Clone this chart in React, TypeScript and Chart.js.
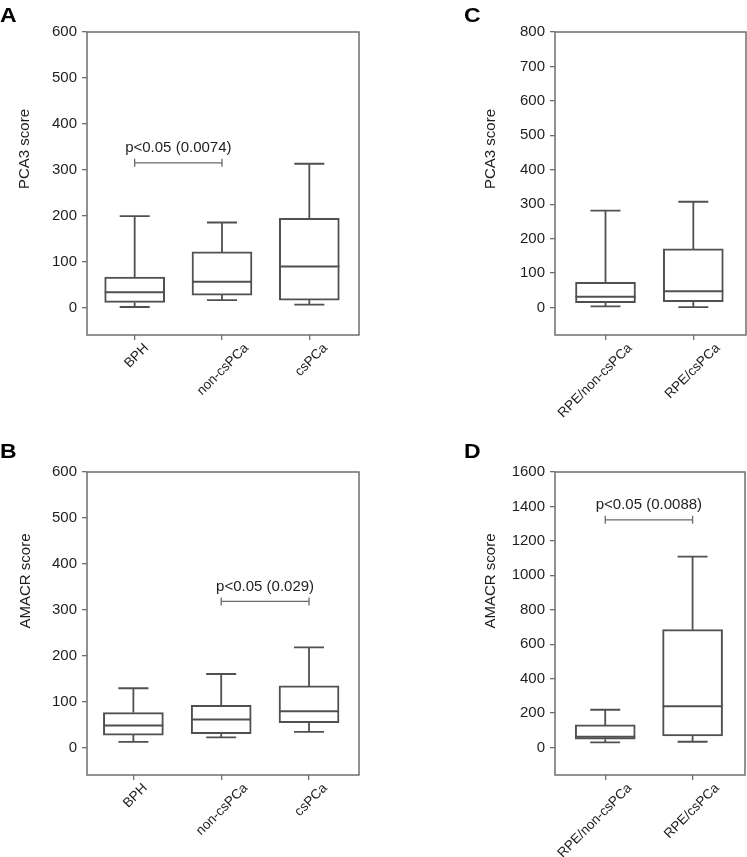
import React, { useEffect, useRef } from "react";
import { Chart, registerables } from "chart.js";

Chart.register(...registerables);

const FONT = "'Liberation Sans', Arial, Helvetica, sans-serif";
const TEXT = "#1e1e1e";
const BOX = "#505050";
const FRAME = "#6e6e6e";

// ---- Panel A: PCA3 score by diagnosis ----
const groupsA = ["BPH", "non-csPCa", "csPCa"];
const lowA = [1, 16, 6];
const q1A = [11, 27, 16];
const medianA = [33, 56, 89];
const q3A = [66, 121, 194];
const highA = [199, 185, 313];
const yTicksA = [0, 100, 200, 300, 400, 500, 600];
const sigA = { from: 1, to: 2, y: 315, label: "p<0.05 (0.0074)" };

// ---- Panel B: AMACR score by diagnosis ----
const groupsB = ["BPH", "non-csPCa", "csPCa"];
const lowB = [12, 22, 34];
const q1B = [27, 30, 54];
const medianB = [48, 61, 79];
const q3B = [76, 92, 134];
const highB = [129, 160, 218];
const yTicksB = [0, 100, 200, 300, 400, 500, 600];
const sigB = { from: 2, to: 3, y: 318, label: "p<0.05 (0.029)" };

// ---- Panel C: PCA3 score in RPE ----
const groupsC = ["RPE/non-csPCa", "RPE/csPCa"];
const lowC = [3, 1];
const q1C = [14, 17];
const medianC = [31, 47];
const q3C = [73, 170];
const highC = [281, 307];
const yTicksC = [0, 100, 200, 300, 400, 500, 600, 700, 800];

// ---- Panel D: AMACR score in RPE ----
const groupsD = ["RPE/non-csPCa", "RPE/csPCa"];
const lowD = [29, 33];
const q1D = [48, 67];
const medianD = [62, 240];
const q3D = [131, 684];
const highD = [219, 1109];
const yTicksD = [0, 200, 400, 600, 800, 1000, 1200, 1400, 1600];
const sigD = { from: 1, to: 2, y: 1322, label: "p<0.05 (0.0088)" };

type Sig = { from: number; to: number; y: number; label: string } | null;

type PanelProps = {
  letter: string;
  title: string;
  groups: string[];
  low: number[];
  q1: number[];
  median: number[];
  q3: number[];
  high: number[];
  yTicks: number[];
  yMin: number;
  yMax: number;
  xMin: number;
  xMax: number;
  sig: Sig;
  left: number;
  top: number;
  width: number;
  height: number;
  area: { l: number; t: number; r: number; b: number };
  titleX: number;
  titleY: number;
  letterX: number;
  letterY: number;
};

function BoxPanel(p: PanelProps) {
  const ref = useRef<HTMLCanvasElement | null>(null);

  useEffect(() => {
    if (!ref.current) return;
    const boxPlugin = {
      id: "boxExtras",
      afterDatasetsDraw(chart: any) {
        const { ctx } = chart;
        const xs = chart.scales.x;
        const ys = chart.scales.y;
        const meta = chart.getDatasetMeta(0);
        ctx.save();
        ctx.strokeStyle = BOX;
        ctx.lineCap = "butt";
        p.groups.forEach((_, i) => {
          const bar = meta.data[i];
          const cx = xs.getPixelForValue(i + 1);
          const half = bar.width / 2;
          const capHalf = half / 2;
          const yHigh = ys.getPixelForValue(p.high[i]);
          const yQ3 = ys.getPixelForValue(p.q3[i]);
          const yQ1 = ys.getPixelForValue(p.q1[i]);
          const yLow = ys.getPixelForValue(p.low[i]);
          const yMed = ys.getPixelForValue(p.median[i]);
          ctx.lineWidth = 1.8;
          ctx.beginPath();
          ctx.moveTo(cx, yQ3);
          ctx.lineTo(cx, yHigh);
          ctx.moveTo(cx - capHalf, yHigh);
          ctx.lineTo(cx + capHalf, yHigh);
          ctx.moveTo(cx, yQ1);
          ctx.lineTo(cx, yLow);
          ctx.moveTo(cx - capHalf, yLow);
          ctx.lineTo(cx + capHalf, yLow);
          ctx.stroke();
          ctx.lineWidth = 2;
          ctx.beginPath();
          ctx.moveTo(cx - half, yMed);
          ctx.lineTo(cx + half, yMed);
          ctx.stroke();
        });
        if (p.sig) {
          const x1 = xs.getPixelForValue(p.sig.from);
          const x2 = xs.getPixelForValue(p.sig.to);
          const yb = ys.getPixelForValue(p.sig.y);
          ctx.strokeStyle = "#6a6a6a";
          ctx.lineWidth = 1.3;
          ctx.beginPath();
          ctx.moveTo(x1, yb);
          ctx.lineTo(x2, yb);
          ctx.moveTo(x1, yb - 4);
          ctx.lineTo(x1, yb + 4);
          ctx.moveTo(x2, yb - 4);
          ctx.lineTo(x2, yb + 4);
          ctx.stroke();
          ctx.fillStyle = TEXT;
          ctx.font = `15px ${FONT}`;
          ctx.textAlign = "center";
          ctx.textBaseline = "alphabetic";
          ctx.fillText(p.sig.label, (x1 + x2) / 2, yb - 10.5);
        }
        ctx.restore();
      },
      afterDraw(chart: any) {
        const { ctx, chartArea } = chart;
        const xs = chart.scales.x;
        ctx.save();
        ctx.strokeStyle = FRAME;
        ctx.lineWidth = 1.5;
        ctx.strokeRect(
          chartArea.left,
          chartArea.top,
          chartArea.right - chartArea.left,
          chartArea.bottom - chartArea.top
        );
        ctx.restore();

        // rotated category labels, placed from the x scale's tick positions
        ctx.save();
        ctx.font = `13.5px ${FONT}`;
        ctx.fillStyle = TEXT;
        ctx.textAlign = "right";
        ctx.textBaseline = "middle";
        p.groups.forEach((g, i) => {
          const tx = xs.getPixelForValue(i + 1);
          const w = ctx.measureText(g).width;
          const endX = tx + Math.min(0.354 * w + 5.5, 28);
          const px = endX - 3.5;
          const py = chartArea.bottom + 7.5 + 3.5;
          ctx.save();
          ctx.translate(px, py);
          ctx.rotate(-Math.PI / 4);
          ctx.fillText(g, 0, 0);
          ctx.restore();
        });
        ctx.restore();

        // y-axis title
        ctx.save();
        ctx.fillStyle = TEXT;
        ctx.font = `15px ${FONT}`;
        ctx.textAlign = "center";
        ctx.textBaseline = "middle";
        ctx.translate(p.titleX, p.titleY);
        ctx.rotate(-Math.PI / 2);
        ctx.fillText(p.title, 0, 0);
        ctx.restore();

        // panel letter
        ctx.save();
        ctx.fillStyle = "#000";
        ctx.font = `bold 20px ${FONT}`;
        ctx.textAlign = "left";
        ctx.textBaseline = "alphabetic";
        ctx.translate(p.letterX, p.letterY);
        ctx.scale(1.15, 1);
        ctx.fillText(p.letter, 0, 0);
        ctx.restore();
      },
    };

    const tickFont = { family: FONT, size: 15 };
    const chart = new Chart(ref.current, {
      type: "bar",
      data: {
        datasets: [
          {
            data: p.groups.map((_, i) => ({ x: i + 1, y: [p.q1[i], p.q3[i]] })) as any,
            backgroundColor: "#ffffff",
            borderColor: BOX,
            borderWidth: 2,
            borderSkipped: false,
            barThickness: 60,
          },
        ],
      },
      options: {
        animation: false,
        responsive: false,
        devicePixelRatio: 1,
        layout: {
          padding: { top: p.area.t, right: p.width - p.area.r, bottom: 0, left: 0 },
        },
        plugins: {
          legend: { display: false },
          tooltip: { enabled: false },
        },
        scales: {
          x: {
            type: "linear",
            min: p.xMin,
            max: p.xMax,
            offset: false,
            grid: {
              display: true,
              drawOnChartArea: false,
              drawTicks: true,
              tickLength: 5,
              color: FRAME,
              lineWidth: 1.3,
              offset: false,
            },
            border: { display: false },
            ticks: {
              autoSkip: false,
              maxRotation: 0,
              font: tickFont,
              color: TEXT,
              callback: () => "",
            },
            afterBuildTicks: (s: any) => {
              s.ticks = p.groups.map((_, i) => ({ value: i + 1 }));
            },
            afterFit: (s: any) => {
              s.height = p.height - p.area.b;
              s.paddingLeft = 0;
              s.paddingRight = 0;
            },
          },
          y: {
            type: "linear",
            min: p.yMin,
            max: p.yMax,
            grid: {
              display: true,
              drawOnChartArea: false,
              drawTicks: true,
              tickLength: 5,
              color: FRAME,
              lineWidth: 1.3,
            },
            border: { display: false },
            ticks: {
              padding: 5,
              font: tickFont,
              color: TEXT,
              callback: (v: any) => String(v),
            },
            afterBuildTicks: (s: any) => {
              s.ticks = p.yTicks.map((v) => ({ value: v }));
            },
            afterFit: (s: any) => {
              s.width = p.area.l;
              s.paddingTop = 0;
              s.paddingBottom = 0;
            },
          },
        },
      } as any,
      plugins: [boxPlugin as any],
    });
    return () => chart.destroy();
  }, []);

  return (
    <canvas
      ref={ref}
      width={p.width}
      height={p.height}
      style={{
        position: "absolute",
        left: p.left,
        top: p.top,
        width: p.width,
        height: p.height,
        display: "block",
      }}
    />
  );
}

export default function App() {
  return (
    <div
      style={{
        position: "absolute",
        left: 0,
        top: 0,
        width: 747,
        height: 857,
        background: "#ffffff",
        overflow: "hidden",
      }}
    >
      <BoxPanel
        letter="A"
        title="PCA3 score"
        groups={groupsA}
        low={lowA}
        q1={q1A}
        median={medianA}
        q3={q3A}
        high={highA}
        yTicks={yTicksA}
        yMin={-60}
        yMax={600}
        xMin={0.454}
        xMax={3.569}
        sig={sigA}
        left={0}
        top={0}
        width={370}
        height={430}
        area={{ l: 87, t: 32, r: 359, b: 335 }}
        titleX={25}
        titleY={149}
        letterX={0}
        letterY={22}
      />
      <BoxPanel
        letter="C"
        title="PCA3 score"
        groups={groupsC}
        low={lowC}
        q1={q1C}
        median={medianC}
        q3={q3C}
        high={highC}
        yTicks={yTicksC}
        yMin={-80}
        yMax={800}
        xMin={0.425}
        xMax={2.6}
        sig={null}
        left={370}
        top={0}
        width={377}
        height={430}
        area={{ l: 185, t: 32, r: 376, b: 335 }}
        titleX={121}
        titleY={149}
        letterX={94}
        letterY={22}
      />
      <BoxPanel
        letter="B"
        title="AMACR score"
        groups={groupsB}
        low={lowB}
        q1={q1B}
        median={medianB}
        q3={q3B}
        high={highB}
        yTicks={yTicksB}
        yMin={-60}
        yMax={600}
        xMin={0.472}
        xMax={3.569}
        sig={sigB}
        left={0}
        top={430}
        width={370}
        height={427}
        area={{ l: 87, t: 42, r: 359, b: 345 }}
        titleX={26}
        titleY={151}
        letterX={0}
        letterY={28}
      />
      <BoxPanel
        letter="D"
        title="AMACR score"
        groups={groupsD}
        low={lowD}
        q1={q1D}
        median={medianD}
        q3={q3D}
        high={highD}
        yTicks={yTicksD}
        yMin={-160}
        yMax={1600}
        xMin={0.425}
        xMax={2.6}
        sig={sigD}
        left={370}
        top={430}
        width={377}
        height={427}
        area={{ l: 185, t: 42, r: 375, b: 345 }}
        titleX={121}
        titleY={151}
        letterX={94}
        letterY={28}
      />
    </div>
  );
}
